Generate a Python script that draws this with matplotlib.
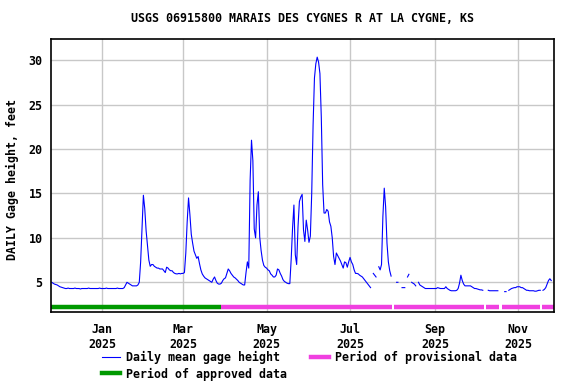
import matplotlib
matplotlib.use("Agg")
import matplotlib.pyplot as plt
import numpy as np
import pandas as pd

nan = np.nan

# Daily mean gage height, feet, Nov 25 2024 - Nov 25 2025
nov_2024 = [5.0, 4.9, 4.8, 4.75, 4.7, 4.6]
dec_2024 = [4.5, 4.45, 4.4, 4.35, 4.3, 4.3, 4.35, 4.3, 4.3, 4.3,
            4.3, 4.35, 4.3, 4.3, 4.3, 4.25, 4.3, 4.3, 4.3, 4.3,
            4.3, 4.35, 4.3, 4.3, 4.3, 4.3, 4.3, 4.3, 4.3, 4.35, 4.3]
jan_2025 = [4.3, 4.3, 4.3, 4.35, 4.3, 4.3, 4.3, 4.3, 4.3, 4.3,
            4.3, 4.35, 4.3, 4.3, 4.3, 4.3, 4.4, 4.7, 5.0, 4.9,
            4.8, 4.7, 4.6, 4.6, 4.6, 4.6, 4.7, 5.0, 7.3, 11.0, 14.8]
feb_2025 = [13.3, 10.8, 9.1, 7.5, 6.8, 7.0, 7.0, 6.8, 6.7, 6.6,
            6.6, 6.5, 6.5, 6.5, 6.3, 6.1, 6.7, 6.6, 6.4, 6.3,
            6.3, 6.1, 6.0, 5.95, 5.95, 6.0, 5.95, 6.0]
mar_2025 = [6.0, 6.1, 8.3, 11.8, 14.5, 12.6, 10.4, 9.4, 8.5, 8.1,
            7.7, 7.9, 7.1, 6.4, 5.95, 5.7, 5.5, 5.4, 5.3, 5.2,
            5.1, 5.0, 5.35, 5.6, 5.2, 4.9, 4.8, 4.8, 4.9, 5.2, 5.4]
apr_2025 = [5.5, 6.0, 6.5, 6.3, 6.0, 5.8, 5.6, 5.5, 5.35, 5.2,
            5.0, 4.9, 4.8, 4.7, 4.7, 6.1, 7.3, 6.6, 16.5, 21.0,
            18.7, 11.0, 10.0, 13.7, 15.2, 10.1, 8.6, 7.5, 6.9, 6.7]
may_2025 = [6.6, 6.4, 6.3, 5.95, 5.8, 5.6, 5.6, 5.8, 6.5, 6.4,
            6.0, 5.7, 5.3, 5.1, 5.0, 4.9, 4.85, 4.85, 7.6, 11.1,
            13.7, 8.1, 7.0, 11.3, 14.1, 14.6, 14.9, 10.9, 9.6, 12.0, 10.9]
jun_2025 = [9.5, 10.2, 15.0, 22.7, 28.0, 29.6, 30.35, 29.8, 28.5, 23.6,
            16.0, 12.8, 12.8, 13.2, 13.0, 11.8, 11.3, 10.0, 7.9, 7.0,
            8.3, 8.0, 7.7, 7.4, 7.0, 6.6, 7.3, 7.2, 6.7, 7.3]
jul_2025 = [7.8, 7.3, 7.0, 6.4, 6.0, 6.0, 5.95, 5.8, 5.7, 5.6,
            5.4, 5.2, 5.0, 4.8, 4.6, 4.4, nan, 6.0, 5.8, 5.6,
            nan, 6.75, 6.4, 7.0, 12.4, 15.6, 13.5, 9.4, 7.3, 6.3, 5.7]
aug_2025 = [nan, nan, nan, 5.0, 5.0, nan, nan, 4.4, 4.4, 4.4,
            nan, 5.6, 5.9, nan, 5.0, 4.9, 4.8, 4.6, nan, 5.0,
            4.7, 4.6, 4.5, 4.4, 4.3, 4.3, 4.3, 4.3, 4.3, 4.3, 4.3]
sep_2025 = [4.3, 4.3, 4.4, 4.35, 4.3, 4.3, 4.3, 4.3, 4.5, 4.3,
            4.2, 4.1, 4.05, 4.05, 4.05, 4.05, 4.1, 4.3, 4.9, 5.8,
            5.2, 4.8, 4.6, 4.6, 4.6, 4.6, 4.6, 4.5, 4.4, 4.3]
oct_2025 = [4.3, 4.25, 4.2, 4.15, 4.15, 4.1, nan, nan, nan, 4.1,
            4.05, 4.05, 4.05, 4.05, 4.05, 4.05, 4.05, nan, nan, nan,
            nan, 3.95, 3.95, nan, 4.1, 4.2, 4.3, 4.35, 4.4, 4.4, 4.5]
nov_2025 = [4.5, 4.5, 4.4, 4.4, 4.3, 4.2, 4.1, 4.1, 4.05, 4.05,
            4.05, 4.05, 4.0, 4.0, 4.05, 4.1, 4.1, nan, 4.1, 4.2,
            4.4, 4.8, 5.2, 5.4, 5.2]

gage = (nov_2024 + dec_2024 + jan_2025 + feb_2025 + mar_2025 + apr_2025
        + may_2025 + jun_2025 + jul_2025 + aug_2025 + sep_2025 + oct_2025
        + nov_2025)
assert len(gage) == 366, len(gage)
dates = pd.date_range("2024-11-25", periods=len(gage), freq="D")

# Approval periods
approved_periods = [("2024-11-24", "2025-03-29")]
provisional_periods = [("2025-03-29", "2025-08-01"), ("2025-08-02", "2025-10-07"),
                       ("2025-10-08", "2025-10-18"), ("2025-10-20", "2025-11-17"),
                       ("2025-11-18", "2025-11-27")]

yticks = [5, 10, 15, 20, 25, 30]
xtick_dates = ["2025-01-01", "2025-03-01", "2025-05-01",
               "2025-07-01", "2025-09-01", "2025-11-01"]
xtick_labels = ["Jan\n2025", "Mar\n2025", "May\n2025",
                "Jul\n2025", "Sep\n2025", "Nov\n2025"]

font = {"family": "DejaVu Sans Mono", "weight": "bold", "size": 8.4}
plt.rcParams["font.family"] = "DejaVu Sans Mono"
plt.rcParams["font.weight"] = "bold"
plt.rcParams["font.size"] = 8.4

fig = plt.figure(figsize=(5.76, 3.84), dpi=100)
ax = fig.add_axes([51 / 576, 1 - 311.7 / 384, 503.3 / 576, 272.4 / 384])

ax.plot(dates, gage, color="#0000ff", lw=0.8, label="Daily mean gage height")

green = "#009900"
magenta = "#f040e0"
bar_y = 2.2
for s, e in approved_periods:
    ax.hlines(bar_y, pd.Timestamp(s), pd.Timestamp(e), color=green, lw=3.2)
for s, e in provisional_periods:
    ax.hlines(bar_y, pd.Timestamp(s), pd.Timestamp(e), color=magenta, lw=3.2)

ax.set_xlim(pd.Timestamp("2024-11-24 12:00"), pd.Timestamp("2025-11-27 06:00"))
ax.set_ylim(1.69, 32.36)
ax.set_yticks(yticks)
ax.set_yticklabels([str(v) for v in yticks])
ax.set_xticks([pd.Timestamp(d) for d in xtick_dates])
ax.set_xticklabels(xtick_labels)
ax.tick_params(axis="both", length=0, labelsize=8.4)
ax.tick_params(axis="y", pad=6)
ax.tick_params(axis="x", pad=8)
ax.grid(True, color="#c8c8c8", lw=1.0)
ax.set_axisbelow(True)
for sp in ax.spines.values():
    sp.set_linewidth(1.2)
    sp.set_color("black")

fig.text(302.6 / 576, 1 - 19 / 384, "USGS 06915800 MARAIS DES CYGNES R AT LA CYGNE, KS",
         ha="center", va="center", fontdict=font)
fig.text(12 / 576, 1 - 180 / 384, "DAILY Gage height, feet", rotation=90,
         ha="center", va="center", fontdict=font)

h_line, = ax.plot([], [], color="#0000ff", lw=0.8)
h_appr, = ax.plot([], [], color=green, lw=3.2)
h_prov, = ax.plot([], [], color=magenta, lw=3.2)
fig.legend([h_line, h_appr, h_prov],
           ["Daily mean gage height", "Period of approved data",
            "Period of provisional data"],
           ncol=2, loc="upper left", bbox_to_anchor=(96 / 576, 1 - 345 / 384),
           frameon=False, borderpad=0, handlelength=1.55, handletextpad=0.5,
           columnspacing=2.05, labelspacing=0.3, prop=font)

fig.savefig("out.png", dpi=100)
